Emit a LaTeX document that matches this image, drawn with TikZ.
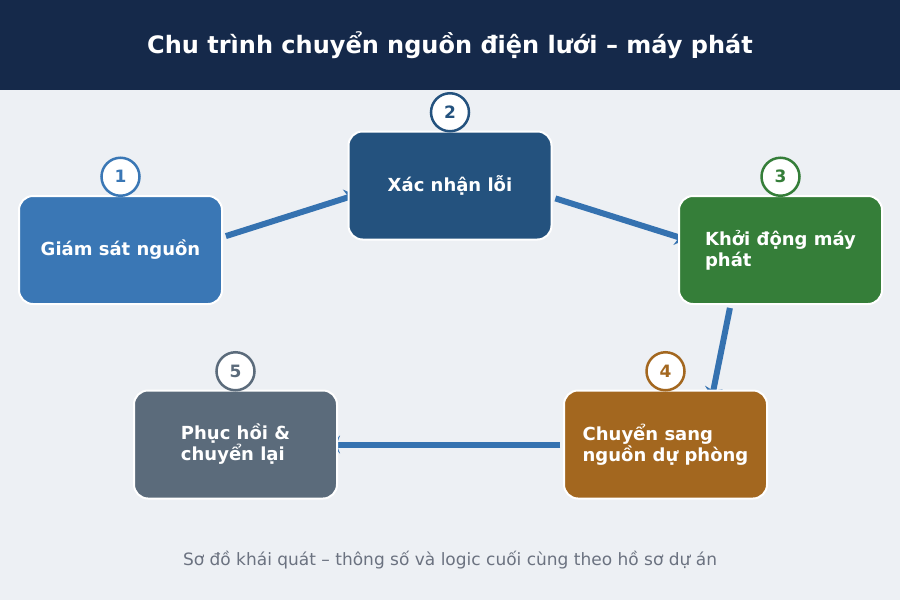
\documentclass[tikz,border=0pt]{standalone}
\usepackage{fontspec}
\setmainfont{DejaVu Sans}
\usetikzlibrary{positioning,backgrounds,arrows.meta}
\definecolor{headbg}{HTML}{15294A}
\definecolor{pagebg}{HTML}{EDF0F4}
\definecolor{cmonitor}{HTML}{3A77B5}
\definecolor{cconfirm}{HTML}{24527E}
\definecolor{cstart}{HTML}{357E39}
\definecolor{cswitch}{HTML}{A3671F}
\definecolor{crestore}{HTML}{5B6B7B}
\definecolor{flowc}{HTML}{3572B0}
\definecolor{notec}{HTML}{6B7280}
\tikzset{
  stepbox/.style={rectangle,rounded corners=14pt,draw=white,line width=2pt,
    minimum width=203pt,minimum height=108pt,inner sep=4pt,text=white,align=left,
    font=\bfseries\fontsize{18}{21}\selectfont},
  badge/.style={circle,fill=white,line width=2.5pt,minimum size=38pt,inner sep=0pt,
    font=\bfseries\fontsize{17}{17}\selectfont},
  flow/.style={draw=flowc,line width=6pt,-{Stealth[length=10pt,width=18pt]},
    shorten <=3pt,shorten >=-8pt}
}

\begin{document}
\begin{tikzpicture}[x=1pt,y=-1pt]
    \useasboundingbox (0,0) rectangle (900,600);
    \node[stepbox,fill=cmonitor] (b1) at (120.5,250)  {Giám sát nguồn};
    \node[stepbox,fill=cconfirm] (b2) at (450,185.5)  {Xác nhận lỗi};
    \node[stepbox,fill=cstart]   (b3) at (780.5,250)  {Khởi động máy\\phát};
    \node[stepbox,fill=cswitch]  (b4) at (665.5,444.5) {Chuyển sang\\nguồn dự phòng};
    \node[stepbox,fill=crestore] (b5) at (235.5,444.5) {Phục hồi \&\\chuyển lại};

    \node[badge,draw=cmonitor,text=cmonitor] (n1) [above=-2pt of b1] {1};
    \node[badge,draw=cconfirm,text=cconfirm] (n2) [above=-2pt of b2] {2};
    \node[badge,draw=cstart,text=cstart]     (n3) [above=-2pt of b3] {3};
    \node[badge,draw=cswitch,text=cswitch]   (n4) [above=-2pt of b4] {4};
    \node[badge,draw=crestore,text=crestore] (n5) [above=-2pt of b5] {5};

    \node[text=white,font=\bfseries\fontsize{24}{28}\selectfont] (title) at (450,45)
        {Chu trình chuyển nguồn điện lưới – máy phát};
    \node[text=notec,font=\fontsize{17}{20}\selectfont] (note) at (450,560)
        {Sơ đồ khái quát – thông số và logic cuối cùng theo hồ sơ dự án};

    \begin{pgfonlayer}{background}
    \fill[pagebg] (0,0) rectangle (900,600);
    \fill[headbg] (0,0) rectangle (900,90);
    \draw[flow] ([yshift=13pt]b1.east) -- ([yshift=-12pt]b2.west);
    \draw[flow] ([yshift=-12pt]b2.east) -- ([yshift=13pt]b3.west);
    \draw[flow] ([xshift=-50pt]b3.south) -- ([xshift=48pt]b4.north);
    \draw[flow] (b4.west) -- (b5.east);
    \end{pgfonlayer}
\end{tikzpicture}
\end{document}
